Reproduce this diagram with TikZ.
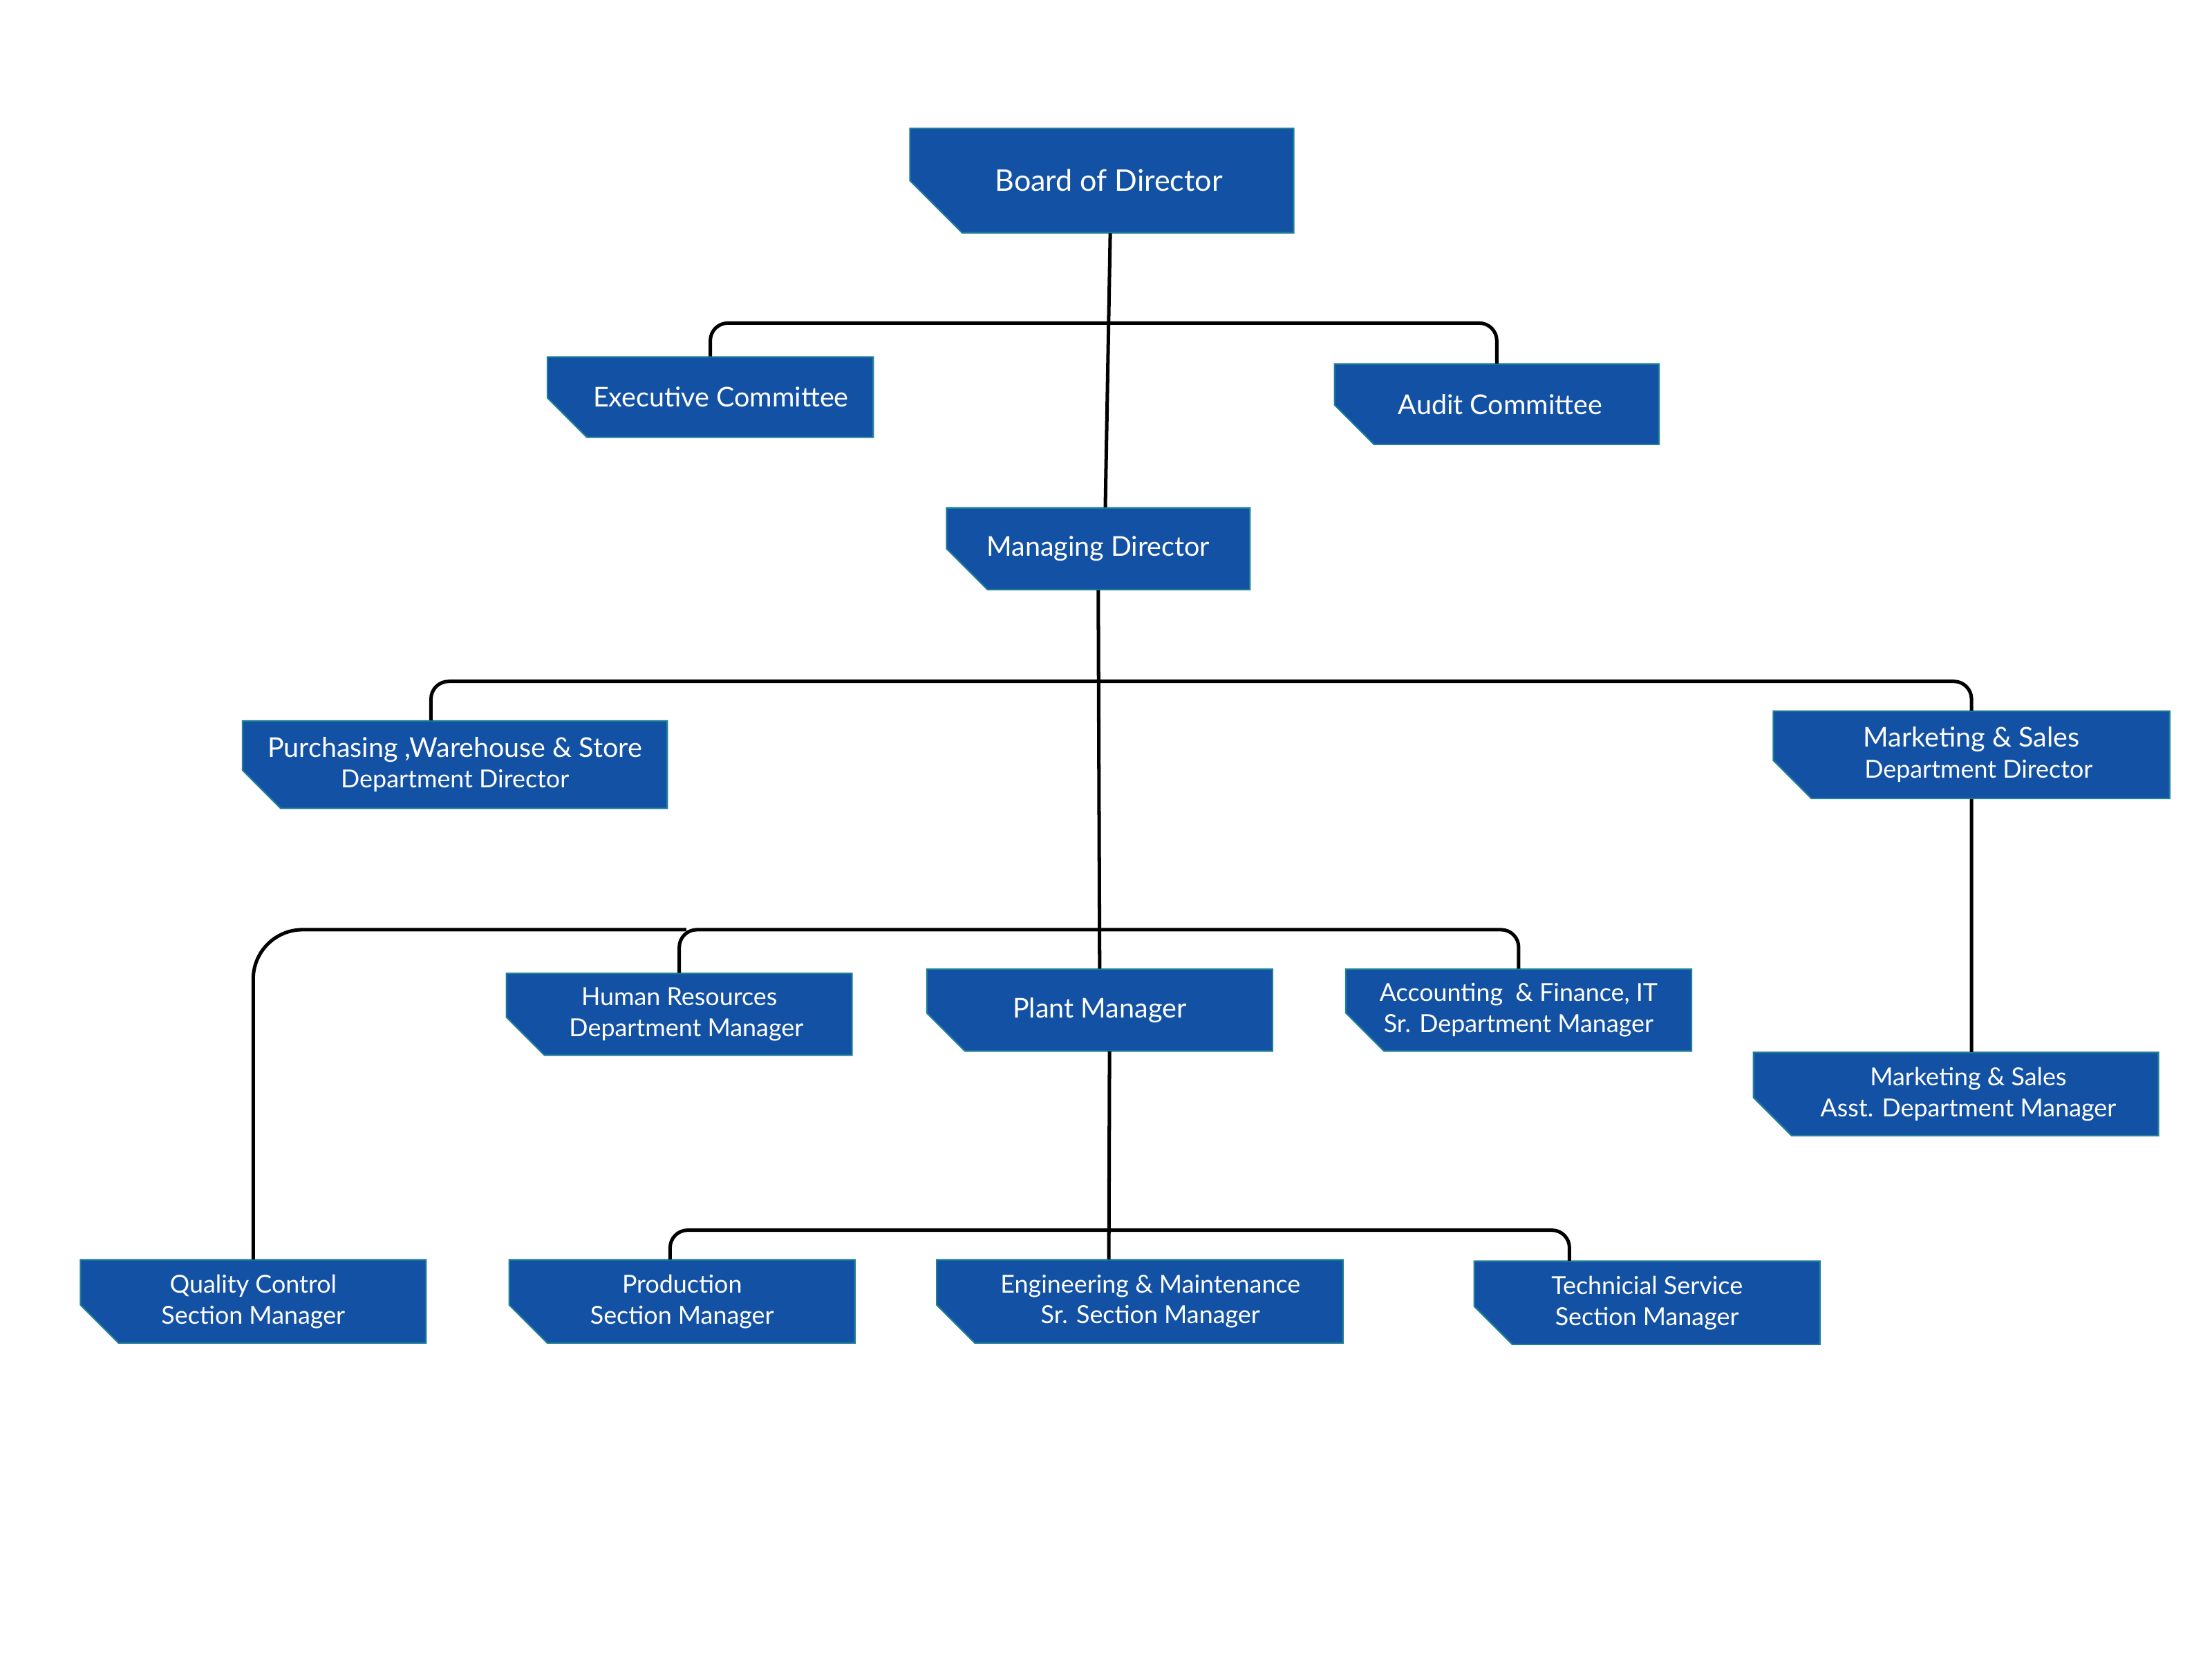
\documentclass[tikz,border=0pt]{standalone}
\usepackage{fontspec}
\setmainfont{Lato}
\usetikzlibrary{positioning, calc}
\definecolor{boxblue}{HTML}{1351A5}
\definecolor{boxedge}{HTML}{1E7F96}
% cut-corner box: name, x1, y1, x2, y2, cut, text
\newcommand{\orgbox}[7]{%
  \filldraw[boxshape] (#2,#3) -- (#4,#3) -- (#4,#5) -- ({#2+#6},#5) -- (#2,{#5-#6}) -- cycle;
  \node[boxtext] (#1) at ({(#2+#4)/2},{(#3+#5)/2})
    [minimum width={(#4-#2)*0.02cm}, minimum height={(#5-#3)*0.02cm}] {#7};}
\begin{document}
\begin{tikzpicture}[x=0.02cm, y=-0.02cm,
    boxshape/.style={fill=boxblue, draw=boxedge, line width=0.6pt},
    boxtext/.style={inner sep=0pt, text=white, align=center, font=\fontsize{10}{12.5}\selectfont},
    link/.style={draw=black, line width=1.4pt, rounded corners=0.25cm}]
  \useasboundingbox (0,0) rectangle (1568,1176);

  % boxes
  \orgbox{board}{645}{91}{917}{165}{37}{\fontsize{12}{14}\selectfont\hspace*{0.2cm}Board of Director}
  \orgbox{exec}{388}{253}{619}{310}{28}{\fontsize{11}{13}\selectfont\hspace*{0.3cm}Executive Committee}
  \orgbox{audit}{946}{258}{1176}{315}{28}{\fontsize{11}{13}\selectfont\hspace*{0.1cm}Audit Committee}
  \orgbox{md}{671}{360}{886}{418}{29}{\fontsize{11}{13}\selectfont Managing Director}
  \orgbox{purch}{172}{511}{473}{573}{27}{\fontsize{11}{13.5}\selectfont Purchasing ,Warehouse \& Store\\Department Director}
  \orgbox{mktdir}{1257}{504}{1538}{566}{27}{\fontsize{11}{13.5}\selectfont Marketing \& Sales\\\hspace*{0.2cm}Department Director}
  \orgbox{hr}{359}{690}{604}{748}{27}{Human Resources\\\hspace*{0.2cm}Department Manager}
  \orgbox{plant}{657}{687}{902}{745}{27}{\fontsize{11}{13}\selectfont Plant Manager}
  \orgbox{acct}{954}{687}{1199}{745}{27}{Accounting\ \ \& Finance, IT\\Sr. Department Manager}
  \orgbox{mktasst}{1243}{746}{1530}{805}{27}{\hspace*{0.35cm}Marketing \& Sales\\\hspace*{0.35cm}Asst. Department Manager}
  \orgbox{qc}{57}{893}{302}{952}{27}{Quality Control\\Section Manager}
  \orgbox{prod}{361}{893}{606}{952}{27}{Production\\Section Manager}
  \orgbox{eng}{664}{893}{952}{952}{27}{\hspace*{0.3cm}Engineering \& Maintenance\\\hspace*{0.3cm}Sr. Section Manager}
  \orgbox{tech}{1045}{894}{1290}{953}{27}{Technicial Service\\Section Manager}

  % bus points
  \coordinate (busa) at (784,229);
  \coordinate (busb) at (779,483);
  \coordinate (busc) at (779,659);
  \coordinate (busd) at (786,872);

  % links
  \draw[link] ([xshift=0.12cm]board.south) -- ([xshift=0.1cm]md.north);
  \draw[link] (exec.north) |- (busa);
  \draw[link] (audit.north) |- (busa);
  \draw[link] (md.south) -- (plant.north);
  \draw[link] ([xshift=-0.34cm]purch.north) |- (busb);
  \draw[link] (mktdir.north) |- (busb);
  \draw[link] (mktdir.south) -- ([xshift=0.22cm]mktasst.north);
  \draw[link] (hr.north) |- (busc);
  \draw[link] (acct.north) |- (busc);
  \draw[link, rounded corners=0.7cm] (qc.north) |- ([xshift=0.1cm]hr.north |- busc);
  \draw[link] ([xshift=0.14cm]plant.south) -- ([xshift=-0.44cm]eng.north);
  \draw[link] ([xshift=-0.17cm]prod.north) |- (busd);
  \draw[link] ([xshift=-1.1cm]tech.north) |- (busd);
\end{tikzpicture}
\end{document}
